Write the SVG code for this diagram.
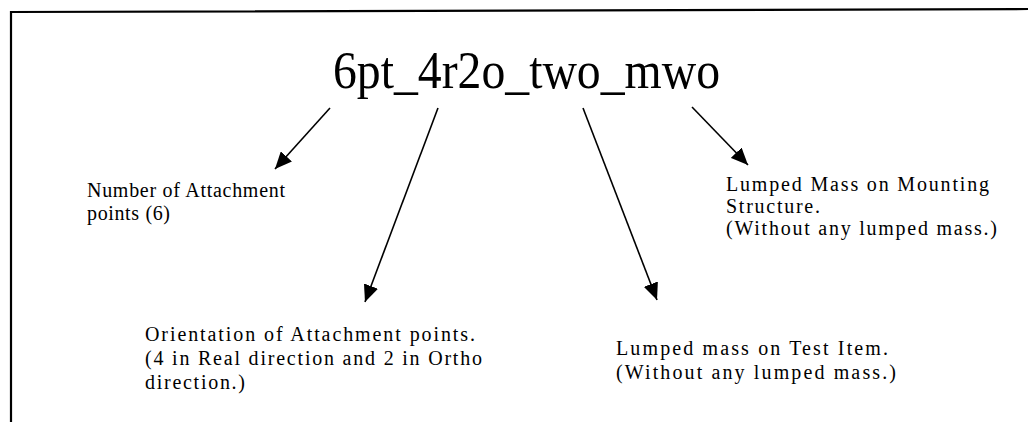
<svg xmlns="http://www.w3.org/2000/svg" width="1028" height="422" viewBox="0 0 1028 422">
<style>
.t{font-family:"Liberation Serif","Times New Roman",serif;font-size:20px;fill:#000}
.title{font-family:"Liberation Serif","Times New Roman",serif;font-size:52px;fill:#000}
.c{stroke:#000;stroke-width:1.6;fill:none;marker-end:url(#ah)}
.frame{stroke:#000;stroke-width:2.2;fill:none}
</style>
<defs>
<marker id="ah" markerUnits="userSpaceOnUse" markerWidth="17" markerHeight="15" refX="17" refY="7.5" orient="auto" viewBox="0 0 17 15">
<path d="M0,0 L17,7.5 L0,15 z" fill="#000"/>
</marker>
</defs>
<rect width="1028" height="422" fill="#fff"/>
<g id="frame">
<path class="frame" d="M11,422 L11,12 L1028,9"/>
</g>
<g id="title">
<text class="title" x="333" y="88" textLength="387" lengthAdjust="spacingAndGlyphs">6pt_4r2o_two_mwo</text>
</g>
<g id="connectors">
<line class="c" x1="330" y1="108" x2="275" y2="169"/>
<line class="c" x1="438" y1="108" x2="365" y2="302"/>
<line class="c" x1="583" y1="108" x2="657" y2="300"/>
<line class="c" x1="692" y1="107" x2="748" y2="165"/>
</g>
<g id="n-attach">
<text class="t" x="87" y="197" textLength="198">Number of Attachment</text>
<text class="t" x="87" y="220" textLength="83">points (6)</text>
</g>
<g id="n-orient">
<text class="t" x="145" y="341" textLength="330">Orientation of Attachment points.</text>
<text class="t" x="145" y="365" textLength="337">(4 in Real direction and 2 in Ortho</text>
<text class="t" x="145" y="389" textLength="100">direction.)</text>
</g>
<g id="n-test">
<text class="t" x="616" y="355" textLength="272">Lumped mass on Test Item.</text>
<text class="t" x="616" y="379" textLength="280">(Without any lumped mass.)</text>
</g>
<g id="n-mount">
<text class="t" x="726" y="191" textLength="263">Lumped Mass on Mounting</text>
<text class="t" x="726" y="213" textLength="94">Structure.</text>
<text class="t" x="726" y="235" textLength="271">(Without any lumped mass.)</text>
</g>
</svg>
